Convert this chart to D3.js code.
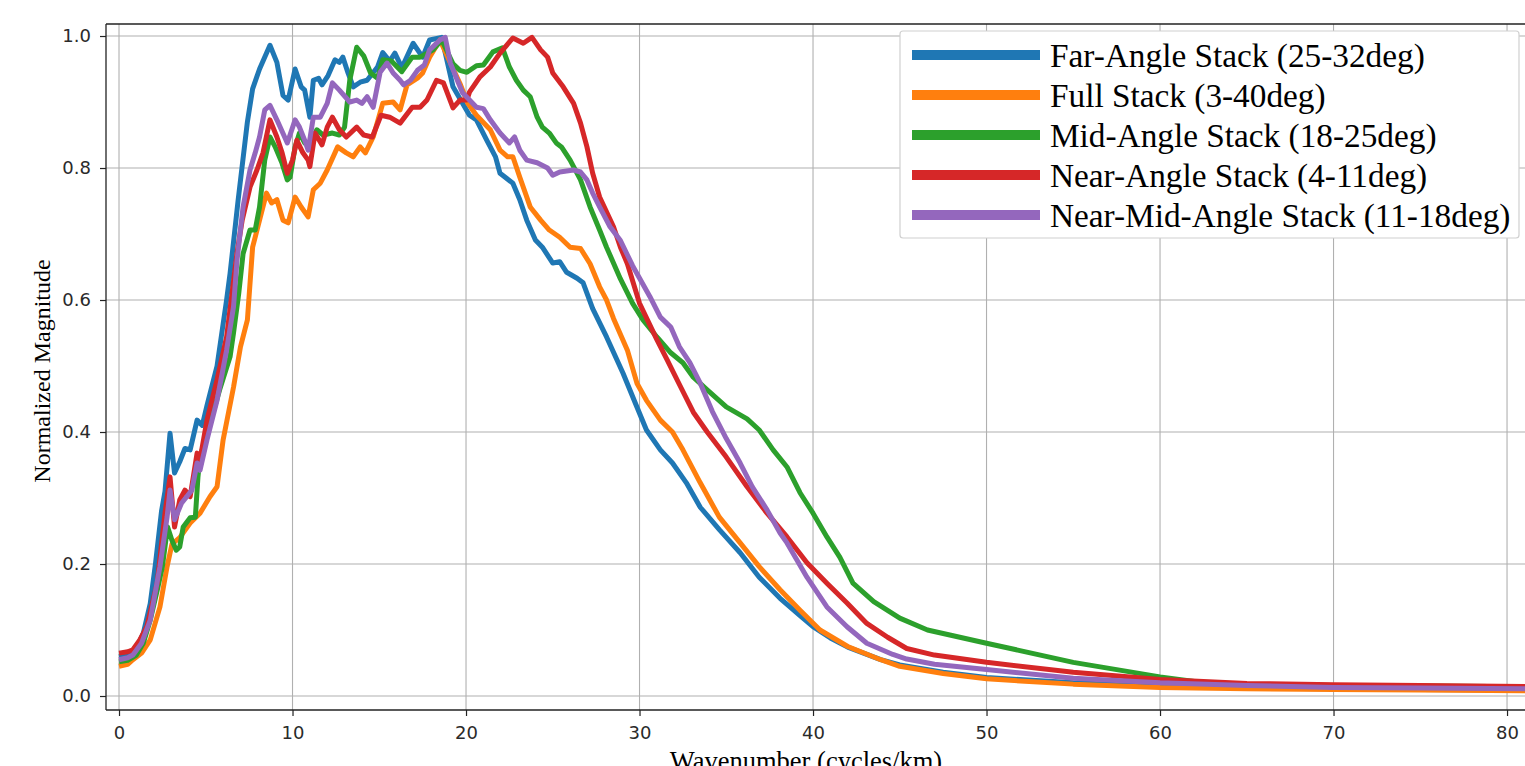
<!DOCTYPE html>
<html><head><meta charset="utf-8">
<script src="https://cdn.jsdelivr.net/npm/d3@7/dist/d3.min.js"></script>
<style>body{margin:0;background:#fff;overflow:hidden}svg{display:block}</style>
</head><body><svg id="chart" width="1525" height="766"></svg>
<script>
// ---------- data ----------
const seriesNames = ["Far-Angle Stack (25-32deg)","Full Stack (3-40deg)","Mid-Angle Stack (18-25deg)","Near-Angle Stack (4-11deg)","Near-Mid-Angle Stack (11-18deg)"];
const seriesColors = ["#1f77b4","#ff7f0e","#2ca02c","#d62728","#9467bd"];
const xTicks = [0,10,20,30,40,50,60,70,80];
const yTicks = [0.0,0.2,0.4,0.6,0.8,1.0];
const xLabel = "Wavenumber (cycles/km)";
const yLabel = "Normalized Magnitude";

const farX = [0,0.5,1.0,1.4,1.8,2.1,2.45,2.65,2.94,3.2,3.5,3.8,4.1,4.5,4.8,5.07,5.65,6.2,6.4,6.86,7.4,7.7,8.1,8.7,9.1,9.45,9.75,10.15,10.5,10.7,11.0,11.2,11.5,11.7,12.05,12.45,12.7,12.9,13.2,13.5,13.9,14.3,14.9,15.2,15.6,15.9,16.3,16.95,17.5,17.9,18.6,19.25,19.8,20.2,20.6,21.2,21.7,21.96,22.7,23.1,23.5,24.0,24.4,25.0,25.4,25.8,26.4,26.75,27.3,28.1,29.05,29.85,30.4,31.2,31.9,32.7,33.5,34.6,35.8,36.9,38.1,39.25,40.0,41.0,42.0,43.9,45,47.5,50,55,60,65,70,75,82];
const farY = [0.06,0.062,0.072,0.095,0.14,0.2,0.28,0.31,0.398,0.338,0.355,0.375,0.373,0.418,0.41,0.44,0.5,0.6,0.64,0.75,0.87,0.92,0.95,0.986,0.96,0.91,0.903,0.95,0.923,0.918,0.877,0.933,0.936,0.926,0.94,0.964,0.96,0.968,0.944,0.923,0.93,0.933,0.953,0.975,0.962,0.974,0.952,0.989,0.968,0.994,0.998,0.923,0.898,0.88,0.873,0.842,0.817,0.792,0.777,0.752,0.721,0.691,0.68,0.656,0.658,0.642,0.633,0.626,0.587,0.544,0.489,0.438,0.403,0.373,0.353,0.323,0.286,0.252,0.217,0.18,0.148,0.122,0.105,0.088,0.074,0.055,0.047,0.036,0.028,0.02,0.015,0.012,0.011,0.01,0.009];

const fullX = [0,0.5,0.8,1.3,1.8,2.36,2.77,3.05,3.5,4.1,4.67,5.24,5.65,6.0,6.6,7.0,7.4,7.7,8.1,8.5,8.8,9.1,9.45,9.75,10.15,10.5,10.9,11.2,11.6,12.0,12.6,13.1,13.5,13.9,14.2,14.65,15.2,15.8,16.2,16.6,17.2,17.5,17.9,18.5,19.1,19.65,20.1,20.6,21.4,21.96,22.4,22.7,23.1,23.7,24.3,24.8,25.4,26.0,26.6,27.15,27.7,28.1,28.5,29.3,29.85,30.4,31.2,31.9,32.5,33.5,34.6,35.8,36.9,38.1,39.25,40.4,42,43.9,45,47.5,50,55,60,65,70,75,82];
const fullY = [0.045,0.048,0.055,0.065,0.085,0.135,0.196,0.23,0.24,0.262,0.277,0.302,0.317,0.388,0.468,0.529,0.57,0.68,0.721,0.762,0.747,0.752,0.721,0.717,0.756,0.741,0.726,0.767,0.777,0.797,0.832,0.823,0.817,0.832,0.823,0.847,0.898,0.9,0.888,0.926,0.936,0.944,0.968,0.994,0.959,0.928,0.898,0.88,0.858,0.827,0.817,0.817,0.786,0.741,0.721,0.706,0.695,0.68,0.678,0.655,0.62,0.6,0.572,0.524,0.474,0.448,0.418,0.4,0.373,0.323,0.271,0.232,0.196,0.161,0.13,0.1,0.075,0.055,0.045,0.034,0.026,0.018,0.013,0.011,0.01,0.009,0.008];

const midX = [0,0.5,1.0,1.4,1.8,2.2,2.5,2.8,3.05,3.3,3.5,3.7,4.1,4.4,4.55,4.67,5.24,5.8,6.4,6.6,6.9,7.15,7.55,7.85,8.1,8.4,8.7,9.0,9.4,9.7,9.86,10.15,10.4,10.7,11.0,11.4,11.76,12.3,12.7,13.0,13.3,13.7,14.1,14.5,14.9,15.2,15.7,16.3,16.9,17.35,18.1,18.6,19.25,19.65,20.05,20.6,21.0,21.55,22.1,22.5,22.9,23.3,23.7,24.1,24.4,24.8,25.2,25.5,26.0,26.6,27.15,27.7,28.1,28.9,29.6,30.2,31.0,31.8,32.5,33.1,33.9,35.0,36.2,36.9,37.7,38.5,39.25,40.0,40.8,41.55,42.3,43.5,45.0,46.6,50,55,60,62.3,65,70,75,82];
const midY = [0.052,0.054,0.062,0.08,0.115,0.16,0.196,0.256,0.236,0.221,0.226,0.256,0.27,0.271,0.332,0.362,0.413,0.464,0.514,0.55,0.61,0.67,0.706,0.706,0.741,0.812,0.847,0.832,0.807,0.782,0.786,0.832,0.853,0.838,0.832,0.858,0.85,0.853,0.85,0.862,0.933,0.983,0.97,0.944,0.936,0.964,0.962,0.946,0.968,0.968,0.979,0.994,0.958,0.948,0.945,0.955,0.956,0.976,0.982,0.953,0.933,0.918,0.908,0.877,0.862,0.853,0.838,0.832,0.812,0.782,0.741,0.706,0.68,0.632,0.595,0.57,0.544,0.52,0.505,0.483,0.464,0.438,0.42,0.403,0.373,0.347,0.308,0.277,0.241,0.21,0.171,0.143,0.118,0.1,0.08,0.051,0.029,0.021,0.018,0.016,0.015,0.014];

const nearX = [0,0.5,0.8,1.2,1.6,2.2,2.65,2.94,3.2,3.5,3.8,4.1,4.5,4.67,5.07,5.65,6.2,6.8,7.1,7.55,7.95,8.3,8.7,9.1,9.4,9.7,10.0,10.25,10.6,10.9,11.0,11.3,11.7,12.0,12.3,12.7,13.1,13.7,14.1,14.6,15.1,15.6,16.2,16.9,17.35,17.75,18.3,18.7,19.25,19.65,20.05,20.2,20.8,21.4,21.96,22.7,23.3,23.8,24.3,24.7,25.0,25.6,26.2,26.6,26.97,27.3,27.7,28.5,28.9,29.3,30.0,31.0,31.6,32.3,33.1,33.9,35.0,36.2,37.35,38.5,39.65,40.8,41.96,43.1,44.3,45.4,47,50,55,60,65,70,75,82];
const nearY = [0.065,0.067,0.07,0.085,0.105,0.171,0.277,0.332,0.256,0.297,0.312,0.302,0.368,0.358,0.418,0.479,0.544,0.671,0.721,0.771,0.797,0.823,0.873,0.847,0.823,0.792,0.812,0.842,0.823,0.812,0.802,0.853,0.835,0.862,0.877,0.858,0.847,0.862,0.85,0.847,0.88,0.877,0.868,0.892,0.892,0.903,0.933,0.929,0.891,0.903,0.903,0.915,0.938,0.953,0.974,0.997,0.989,0.998,0.979,0.968,0.944,0.923,0.898,0.868,0.832,0.792,0.756,0.711,0.68,0.655,0.595,0.54,0.509,0.472,0.43,0.4,0.362,0.317,0.277,0.241,0.202,0.171,0.141,0.11,0.089,0.072,0.062,0.051,0.036,0.025,0.019,0.017,0.016,0.014];

const nearMidX = [0,0.5,0.8,1.3,1.8,2.36,2.77,2.94,3.2,3.6,3.9,4.2,4.5,4.67,5.07,5.65,6.2,6.6,6.8,7.15,7.55,7.85,8.1,8.4,8.7,9.1,9.7,10.15,10.4,10.7,10.9,11.2,11.6,12.0,12.3,12.7,13.3,13.7,14.0,14.3,14.65,15.05,15.45,15.8,16.2,16.4,16.8,17.2,17.6,17.9,18.5,18.8,19.1,19.5,19.8,20.2,20.6,21.0,21.4,21.96,22.5,22.8,23.1,23.5,24.1,24.7,25.0,25.4,26.2,26.6,26.97,27.3,27.7,28.3,28.9,29.6,30.6,31.2,31.8,32.3,32.9,33.5,34.2,35.0,35.8,36.5,37.35,38.1,38.5,39.65,40.8,41.96,43.1,44.6,45.4,47,50,55,60,65,70,75,82];
const nearMidY = [0.055,0.058,0.062,0.08,0.115,0.196,0.271,0.312,0.267,0.292,0.302,0.312,0.353,0.342,0.388,0.448,0.524,0.59,0.66,0.741,0.797,0.823,0.847,0.888,0.895,0.873,0.838,0.873,0.862,0.842,0.827,0.877,0.877,0.898,0.929,0.918,0.9,0.903,0.898,0.908,0.892,0.945,0.959,0.944,0.933,0.926,0.933,0.948,0.956,0.979,0.994,0.998,0.959,0.933,0.914,0.903,0.892,0.89,0.873,0.853,0.838,0.847,0.827,0.812,0.808,0.8,0.789,0.794,0.797,0.794,0.782,0.762,0.741,0.711,0.69,0.652,0.605,0.574,0.559,0.529,0.505,0.474,0.431,0.39,0.353,0.317,0.282,0.247,0.232,0.18,0.135,0.105,0.08,0.063,0.056,0.048,0.04,0.027,0.02,0.016,0.013,0.012,0.011];

const seriesX = [farX, fullX, midX, nearX, nearMidX];
const seriesY = [farY, fullY, midY, nearY, nearMidY];

// ---------- layout ----------
const W = 1525, H = 766;
const plot = {left:106, right:1540, top:24, bottom:710};
const svg = d3.select("#chart");
svg.append("rect").attr("width",W).attr("height",H).attr("fill","#fff");

const x = d3.scaleLinear().domain([-0.75, 81.9]).range([plot.left, plot.right]);
const y = d3.scaleLinear().domain([-0.0212, 1.0182]).range([plot.bottom, plot.top]);

// grid
const grid = svg.append("g").attr("stroke","#b0b0b0").attr("stroke-width",1.1);
xTicks.forEach(t => grid.append("line").attr("x1",x(t)).attr("x2",x(t)).attr("y1",plot.top).attr("y2",plot.bottom));
yTicks.forEach(t => grid.append("line").attr("x1",plot.left).attr("x2",plot.right).attr("y1",y(t)).attr("y2",y(t)));

// clip
svg.append("clipPath").attr("id","clip").append("rect")
  .attr("x",plot.left).attr("y",plot.top).attr("width",plot.right-plot.left).attr("height",plot.bottom-plot.top);

const line = d3.line().x(d=>x(d[0])).y(d=>y(d[1]));
const lines = svg.append("g").attr("clip-path","url(#clip)");
seriesX.forEach((xs,i) => {
  const pts = xs.map((v,j)=>[v, seriesY[i][j]]);
  lines.append("path").attr("d",line(pts)).attr("fill","none")
    .attr("stroke",seriesColors[i]).attr("stroke-width",5)
    .attr("stroke-linejoin","round").attr("stroke-linecap","butt");
});

// axes
const tickFont = "'DejaVu Sans', sans-serif";
const yAxis = svg.append("g").attr("transform",`translate(${plot.left},0)`)
  .call(d3.axisLeft(y).tickValues(yTicks).tickFormat(d3.format(".1f")).tickSize(6).tickPadding(9));
const xAxis = svg.append("g").attr("transform",`translate(0,${plot.bottom})`)
  .call(d3.axisBottom(x).tickValues(xTicks).tickFormat(d3.format("d")).tickSize(6).tickPadding(10));
[xAxis,yAxis].forEach(a=>{
  a.select(".domain").remove();
  a.selectAll(".tick line").attr("stroke","#222").attr("stroke-width",1.2);
  a.selectAll(".tick text").attr("fill","#2a2a2a").style("font-family",tickFont).style("font-size","18px");
});

// spines
const sp = svg.append("g").attr("stroke","#222").attr("stroke-width",1.3).attr("fill","none");
sp.append("line").attr("x1",plot.left).attr("x2",plot.left).attr("y1",plot.top).attr("y2",plot.bottom);
sp.append("line").attr("x1",plot.left).attr("x2",plot.right).attr("y1",plot.bottom).attr("y2",plot.bottom);
sp.append("line").attr("x1",plot.left).attr("x2",plot.right).attr("y1",plot.top).attr("y2",plot.top);

// axis labels
const serif = "'Liberation Serif','Times New Roman',serif";
svg.append("text").attr("x",806).attr("y",770).attr("text-anchor","middle")
  .style("font-family",serif).style("font-size","26.5px").attr("fill","#000").text(xLabel);
svg.append("text").attr("transform","translate(50,371) rotate(-90)").attr("text-anchor","middle")
  .style("font-family",serif).style("font-size","24px").attr("fill","#000").text(yLabel);

// legend
const leg = svg.append("g");
leg.append("rect").attr("x",900).attr("y",31).attr("width",619).attr("height",207).attr("rx",3)
  .attr("fill","#fff").attr("stroke","#d0d0d0").attr("stroke-width",1.2);
seriesNames.forEach((n,i)=>{
  const cy = 55 + i*40;
  leg.append("line").attr("x1",912).attr("x2",1040).attr("y1",cy).attr("y2",cy)
    .attr("stroke",seriesColors[i]).attr("stroke-width",10);
  leg.append("text").attr("x",1050).attr("y",cy+11.5).style("font-family",serif)
    .style("font-size","33.3px").attr("fill","#000").text(n);
});
</script></body></html>
